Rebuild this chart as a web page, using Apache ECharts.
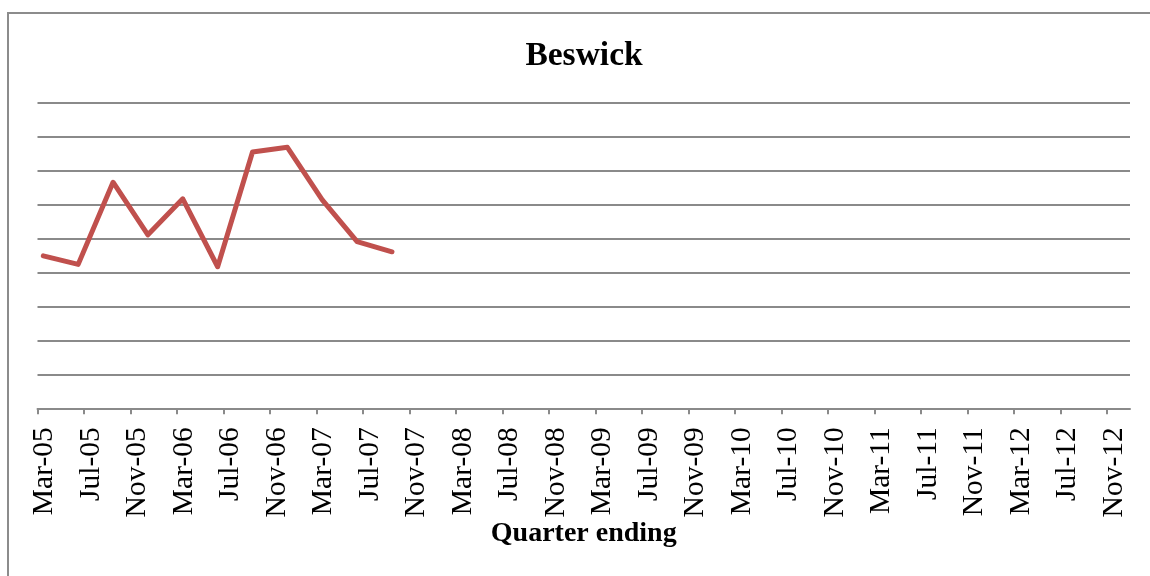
<!DOCTYPE html>
<html>
<head>
<meta charset="utf-8">
<script src="https://cdn.jsdelivr.net/npm/echarts@6/dist/echarts.min.js"></script>
<style>
  html, body { margin: 0; padding: 0; background: #ffffff; }
  #chart { width: 1150px; height: 576px; }
</style>
</head>
<body>
<div id="chart"></div>
<script>
// ---- data ----
const quarters = ['Mar-05','Jun-05','Sep-05','Dec-05','Mar-06','Jun-06','Sep-06','Dec-06','Mar-07','Jun-07','Sep-07'];
const values = [4.49, 4.24, 6.66, 5.11, 6.17, 4.17, 7.55, 7.69, 6.14, 4.91, 4.61];
const xTickLabels = ['Mar-05','Jul-05','Nov-05','Mar-06','Jul-06','Nov-06','Mar-07','Jul-07','Nov-07',
  'Mar-08','Jul-08','Nov-08','Mar-09','Jul-09','Nov-09','Mar-10','Jul-10','Nov-10',
  'Mar-11','Jul-11','Nov-11','Mar-12','Jul-12','Nov-12'];
const axisStart = 'Mar-05';
const axisEnd = 'Jan-13';
const title = 'Beswick';
const xName = 'Quarter ending';

// ---- helpers: month labels -> month index on a monthly axis ----
const MONTHS = ['Jan','Feb','Mar','Apr','May','Jun','Jul','Aug','Sep','Oct','Nov','Dec'];
function monthNum(lbl) {
  const [m, y] = lbl.split('-');
  return (2000 + parseInt(y, 10)) * 12 + MONTHS.indexOf(m);
}
const base = monthNum(axisStart);
const idx = lbl => monthNum(lbl) - base;
const tickVals = xTickLabels.map(idx);
const labelByIdx = {};
xTickLabels.forEach(l => { labelByIdx[idx(l)] = l; });
// Excel date axis with month base unit: points sit mid-month
const seriesData = quarters.map((q, i) => [idx(q) + 0.5, values[i]]);

const grey = '#8a8a8a';
const serif = '"Liberation Serif", "DejaVu Serif", serif';

const chart = echarts.init(document.getElementById('chart'), null, { renderer: 'canvas' });
chart.setOption({
  backgroundColor: '#ffffff',
  animation: false,
  title: {
    text: title,
    left: 579, textAlign: 'center',
    top: 34,
    textStyle: { fontFamily: serif, fontWeight: 'bold', fontSize: 33.5, color: '#000' }
  },
  graphic: [{
    type: 'rect',
    shape: { x: 8, y: 13, width: 1300, height: 800 },
    style: { fill: 'none', stroke: '#8c8c8c', lineWidth: 2 },
    silent: true, z: -1
  }],
  grid: { left: 37.5, right: 20, top: 102.8, bottom: 167.7, containLabel: false },
  xAxis: {
    type: 'value',
    min: 0,
    max: idx(axisEnd),
    name: xName,
    nameLocation: 'middle',
    nameGap: 111,
    nameMoveOverlap: false,
    nameTextStyle: { fontFamily: serif, fontWeight: 'bold', fontSize: 28, color: '#000' },
    axisLine: { show: true, lineStyle: { color: grey, width: 2 } },
    axisTick: { show: true, length: 6, customValues: tickVals, lineStyle: { color: grey, width: 2 } },
    axisLabel: {
      show: true,
      customValues: tickVals,
      rotate: 90,
      margin: 19,
      verticalAlign: 'top',
      lineHeight: 14,
      fontFamily: serif, fontSize: 29.5, color: '#000',
      formatter: v => labelByIdx[Math.round(v)] || ''
    },
    splitLine: { show: false }
  },
  yAxis: {
    type: 'value',
    min: 0, max: 9, interval: 1,
    axisLine: { show: false },
    axisTick: { show: false },
    axisLabel: { show: false },
    splitLine: { show: true, lineStyle: { color: grey, width: 2 } }
  },
  series: [{
    type: 'line',
    data: seriesData,
    symbol: 'none',
    lineStyle: { color: '#C0504D', width: 5, join: 'round', cap: 'round' },
    itemStyle: { color: '#C0504D' }
  }]
});
</script>
</body>
</html>
